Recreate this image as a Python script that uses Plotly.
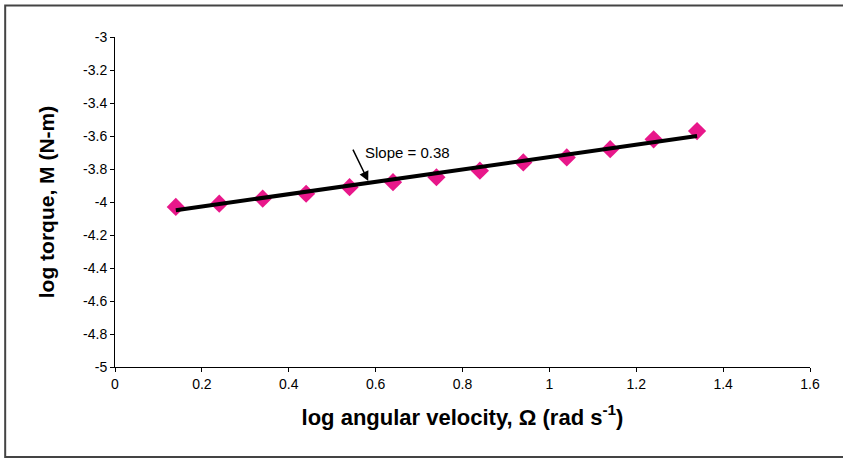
import plotly.graph_objects as go

# Data
log_omega = [0.14, 0.24, 0.34, 0.44, 0.54, 0.64, 0.74, 0.84, 0.94, 1.04, 1.14, 1.24, 1.34]
log_torque = [-4.03, -4.01, -3.98, -3.95, -3.91, -3.88, -3.85, -3.81, -3.76, -3.73, -3.68, -3.62, -3.57]
fit_x = [0.14, 1.34]
fit_y = [-4.05, -3.60]
x_ticks = [0, 0.2, 0.4, 0.6, 0.8, 1, 1.2, 1.4, 1.6]
x_tick_labels = ["0", "0.2", "0.4", "0.6", "0.8", "1", "1.2", "1.4", "1.6"]
y_ticks = [-5, -4.8, -4.6, -4.4, -4.2, -4, -3.8, -3.6, -3.4, -3.2, -3]
y_tick_labels = ["-5", "-4.8", "-4.6", "-4.4", "-4.2", "-4", "-3.8", "-3.6", "-3.4", "-3.2", "-3"]

FONT = "Liberation Sans, Arial, Helvetica, sans-serif"

fig = go.Figure()
fig.add_trace(go.Scatter(
    x=log_omega, y=log_torque, mode="markers",
    marker=dict(symbol="diamond", size=14, color="#E8178A", line=dict(width=0)),
    showlegend=False, hoverinfo="x+y"))
fig.add_trace(go.Scatter(
    x=fit_x, y=fit_y, mode="lines",
    line=dict(color="black", width=4),
    showlegend=False, hoverinfo="skip"))

fig.add_annotation(x=0.583, y=-3.873, xref="x", yref="y", text="",
                   showarrow=True, ax=-16, ay=-33, arrowhead=2, arrowsize=1.3,
                   arrowwidth=1.5, arrowcolor="black")
fig.add_annotation(x=0.572, y=-3.70, xref="x", yref="y", text="Slope = 0.38",
                   showarrow=False, xanchor="left", yanchor="middle",
                   font=dict(family=FONT, size=15, color="black"))

# Outer frame (right edge lies beyond the visible page, as in the reference)
fig.add_shape(type="rect", xref="paper", yref="paper",
              x0=-0.158, x1=1.08, y0=-0.2727, y1=1.0955,
              line=dict(color="#444444", width=2), fillcolor="rgba(0,0,0,0)")

fig.update_xaxes(range=[0, 1.6], tickvals=x_ticks, ticktext=x_tick_labels,
                 showline=True, linecolor="black", linewidth=1,
                 ticks="outside", ticklen=4, tickcolor="black", tickwidth=1,
                 showgrid=False, zeroline=False,
                 tickfont=dict(family=FONT, size=14, color="black"),
                 title=dict(text="<b>log angular velocity, Ω (rad s<sup>-1</sup>)</b>",
                            font=dict(family=FONT, size=22, color="black"), standoff=18))
fig.update_yaxes(range=[-5, -3], tickvals=y_ticks, ticktext=y_tick_labels,
                 showline=True, linecolor="black", linewidth=1,
                 ticks="outside", ticklen=4, tickcolor="black", tickwidth=1,
                 showgrid=False, zeroline=False,
                 tickfont=dict(family=FONT, size=14, color="black"),
                 title=dict(text="<b>log torque, M (N-m)</b>",
                            font=dict(family=FONT, size=21, color="black"), standoff=22))

fig.update_layout(width=843, height=459,
                  margin=dict(l=115, r=33, t=37, b=92),
                  paper_bgcolor="white", plot_bgcolor="white",
                  font=dict(family=FONT))

fig.write_html("out.html",
               config={"displayModeBar": False},
               post_script="document.body.style.margin='0';document.body.style.overflow='hidden';")
